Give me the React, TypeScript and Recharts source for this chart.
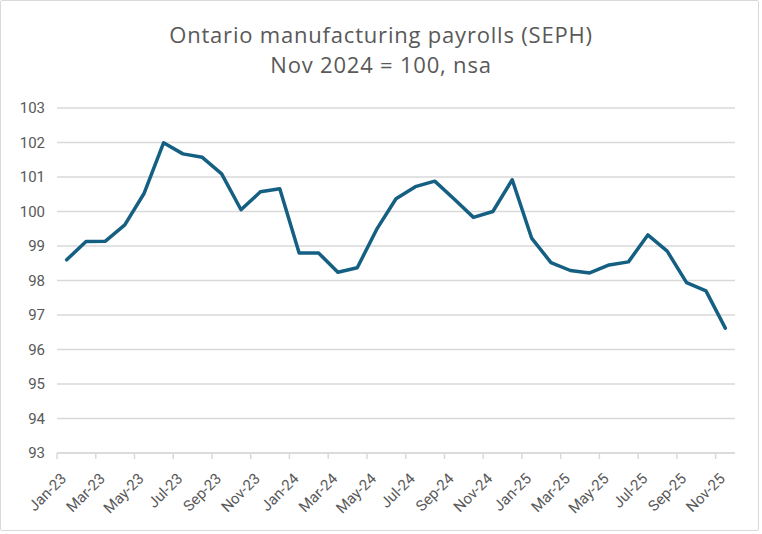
import React from 'react';
import { LineChart, Line, XAxis, YAxis, CartesianGrid } from 'recharts';

const months = [
  'Jan-23', 'Feb-23', 'Mar-23', 'Apr-23', 'May-23', 'Jun-23', 'Jul-23', 'Aug-23', 'Sep-23', 'Oct-23', 'Nov-23', 'Dec-23',
  'Jan-24', 'Feb-24', 'Mar-24', 'Apr-24', 'May-24', 'Jun-24', 'Jul-24', 'Aug-24', 'Sep-24', 'Oct-24', 'Nov-24', 'Dec-24',
  'Jan-25', 'Feb-25', 'Mar-25', 'Apr-25', 'May-25', 'Jun-25', 'Jul-25', 'Aug-25', 'Sep-25', 'Oct-25', 'Nov-25',
];

const payrollIndex = [
  98.6, 99.13, 99.14, 99.61, 100.53, 101.99, 101.67, 101.57, 101.09, 100.05, 100.57, 100.66,
  98.8, 98.8, 98.24, 98.37, 99.48, 100.37, 100.72, 100.88, 100.36, 99.83, 100.0, 100.92,
  99.23, 98.52, 98.29, 98.22, 98.45, 98.54, 99.32, 98.85, 97.94, 97.7, 96.62,
];

const yTicks = [93, 94, 95, 96, 97, 98, 99, 100, 101, 102, 103];

const titleLine1 = 'Ontario manufacturing payrolls (SEPH)';
const titleLine2 = 'Nov 2024 = 100, nsa';

const data = months.map((m, i) => ({ month: m, value: payrollIndex[i] }));

const FONT = 'Roboto, "Liberation Sans", sans-serif';
const TITLE_FONT = '"Open Sans", Roboto, sans-serif';
const TEXT = '#595959';
const GRID = '#d9d9d9';

const XTick = (props: any) => {
  const { x, y, payload } = props;
  const off = payload && typeof payload.offset === 'number' ? payload.offset : 0;
  const tx = x - 3;
  const ty = y + 23;
  return (
    <g>
      <line x1={x - off} x2={x - off} y1={y} y2={y + 6} stroke={GRID} strokeWidth={1.5} />
      <text
        x={tx}
        y={ty}
        textAnchor="end"
        dominantBaseline="central"
        fill={TEXT}
        fontSize={15}
        fontFamily={FONT}
        transform={`rotate(-45, ${tx}, ${ty})`}
      >
        {payload.value}
      </text>
    </g>
  );
};

const titleStyle: React.CSSProperties = {
  position: 'absolute', left: 0, width: 762, textAlign: 'center', color: TEXT,
  fontSize: 22, lineHeight: '30px', letterSpacing: 0.8, fontFamily: TITLE_FONT, whiteSpace: 'nowrap',
};

export default function App() {
  return (
    <div style={{ position: 'absolute', left: 0, top: 0, width: 762, height: 534, background: '#fff', fontFamily: FONT }}>
      <div
        style={{
          position: 'absolute', left: 0, top: 0, width: 759, height: 531,
          border: `1px solid ${GRID}`, boxSizing: 'border-box', borderRadius: 2,
        }}
      />
      <div style={{ ...titleStyle, top: 19 }}>{titleLine1}</div>
      <div style={{ ...titleStyle, top: 49 }}>{titleLine2}</div>
      <div style={{ position: 'absolute', left: 0, top: 0 }}>
        <LineChart width={762} height={534} data={data} margin={{ top: 108, right: 27, bottom: 0, left: 0 }}>
          <CartesianGrid horizontal vertical={false} stroke={GRID} strokeWidth={1.5} />
          <XAxis
            dataKey="month"
            scale="band"
            interval={1}
            height={81}
            tickSize={0}
            tickMargin={0}
            tickLine={false}
            axisLine={{ stroke: GRID, strokeWidth: 1.5 }}
            tick={<XTick />}
          />
          <YAxis
            domain={[93, 103]}
            ticks={yTicks}
            width={57}
            axisLine={false}
            tickLine={false}
            tickMargin={6}
            tick={{ fill: TEXT, fontSize: 15, fontFamily: FONT }}
          />
          <Line
            type="linear"
            dataKey="value"
            stroke="#156082"
            strokeWidth={3.5}
            strokeLinejoin="round"
            strokeLinecap="round"
            dot={false}
            isAnimationActive={false}
          />
        </LineChart>
      </div>
    </div>
  );
}
